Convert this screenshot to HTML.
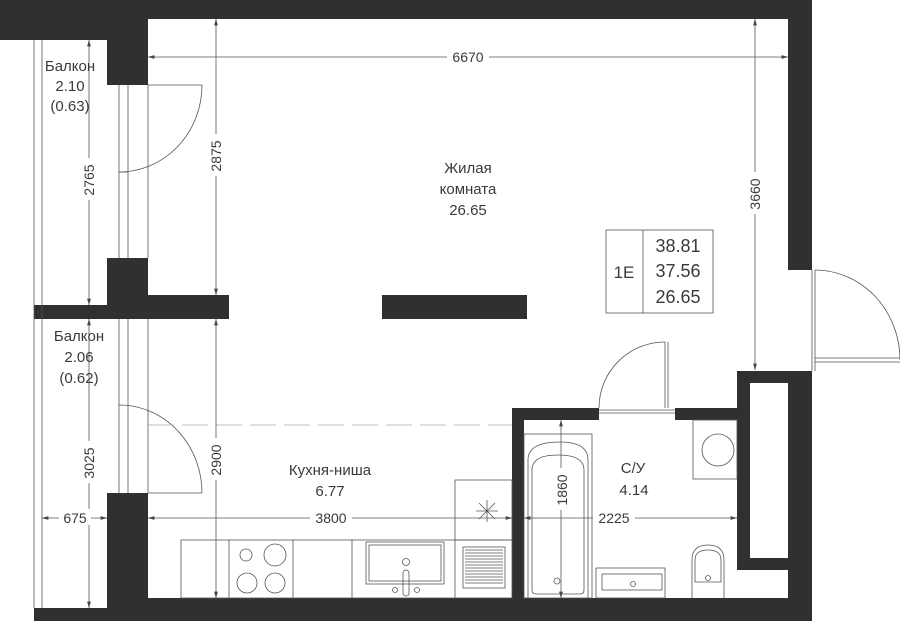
<!DOCTYPE html>
<html><head><meta charset="utf-8"><style>
body{margin:0;background:#fff;}
svg{display:block;}
text{font-family:"Liberation Sans","DejaVu Sans",sans-serif;fill:#3a3a3a;}
</style></head><body>
<svg width="900" height="621" viewBox="0 0 900 621" xmlns="http://www.w3.org/2000/svg">
<defs>
<marker id="a" viewBox="0 0 10 6" refX="10" refY="3" markerWidth="8" markerHeight="5" orient="auto-start-reverse"><path d="M0,0L10,3L0,6z" fill="#444"/></marker>
</defs>
<g fill="#303030">
<rect x="0" y="0" width="148" height="40"/>
<rect x="148" y="0" width="664" height="19"/>
<rect x="788" y="0" width="24" height="270"/>
<rect x="107" y="40" width="41" height="45"/>
<rect x="107" y="258" width="41" height="37"/>
<rect x="107" y="295" width="122" height="24"/>
<rect x="34" y="305" width="73" height="14"/>
<rect x="382" y="295" width="145" height="24"/>
<rect x="107" y="493" width="41" height="128"/>
<rect x="34" y="608" width="73" height="13"/>
<rect x="107" y="598" width="705" height="23"/>
<rect x="512" y="408" width="12" height="190"/>
<rect x="512" y="408" width="87" height="12"/>
<rect x="675" y="408" width="62" height="12"/>
<rect x="737" y="371" width="75" height="199"/>
<rect x="788" y="570" width="24" height="28"/>
</g>
<rect x="750" y="383" width="38" height="175" fill="#fff"/>
<g fill="none" stroke="#555" stroke-width="0.8">
<line x1="34" y1="40" x2="34" y2="608"/><line x1="42" y1="40" x2="42" y2="608"/>
<line x1="119" y1="85" x2="119" y2="258"/><line x1="128" y1="85" x2="128" y2="258"/><line x1="148" y1="85" x2="148" y2="258"/>
<line x1="119" y1="319" x2="119" y2="493"/><line x1="128" y1="319" x2="128" y2="493"/><line x1="148" y1="319" x2="148" y2="493"/>
<line x1="148" y1="85" x2="202" y2="85"/><path d="M202,85 A83,87 0 0 1 119,172"/><line x1="119" y1="172" x2="128" y2="172"/>
<line x1="148" y1="493" x2="202" y2="493"/><path d="M202,493 A83,88 0 0 0 119,405"/>
<line x1="812" y1="270" x2="812" y2="371"/><line x1="815" y1="270" x2="815" y2="371"/>
<line x1="815" y1="362" x2="900" y2="362"/><line x1="815" y1="358" x2="900" y2="358"/>
<path d="M815,270 A85,90 0 0 1 900,360"/>
<line x1="665" y1="342" x2="665" y2="408"/><line x1="668" y1="342" x2="668" y2="408"/>
<path d="M665,342 A66,66 0 0 0 599,408"/>
<line x1="599" y1="410" x2="675" y2="410"/><line x1="599" y1="413" x2="675" y2="413"/>
<line x1="148" y1="425" x2="512" y2="425" stroke-dasharray="26,8" stroke="#aaa"/>
<rect x="606" y="230" width="107" height="83"/><line x1="643" y1="230" x2="643" y2="313"/>
<!-- kitchen -->
<rect x="181" y="540" width="331" height="58"/>
<line x1="229" y1="540" x2="229" y2="598"/><line x1="293" y1="540" x2="293" y2="598"/><line x1="352" y1="540" x2="352" y2="598"/><line x1="455" y1="540" x2="455" y2="598"/>
<circle cx="246" cy="555" r="6"/><circle cx="275" cy="555" r="11"/><circle cx="247" cy="583" r="10"/><circle cx="275" cy="583" r="10"/>
<rect x="366" y="542" width="78" height="42"/><rect x="369" y="545" width="72" height="36"/>
<circle cx="406" cy="562" r="3.5"/><rect x="403" y="570" width="6" height="26" rx="3"/><circle cx="395" cy="590" r="2.5"/><circle cx="417" cy="590" r="2.5"/>
<rect x="455" y="480" width="57" height="60"/>
<rect x="463" y="547" width="42" height="41"/>
<path d="M465,550h38M465,553h38M465,556h38M465,559h38M465,562h38M465,565h38M465,568h38M465,571h38M465,574h38M465,577h38M465,580h38M465,583h38"/>
<path d="M476,511h22M487,500v22M479,503l16,16M495,503l-16,16"/>
<!-- bathroom -->
<rect x="524" y="434" width="68" height="164"/>
<path d="M528,598 V460 Q528,442 560,442 Q588,442 588,460 V598"/>
<path d="M532,590 V470 Q532,455 558,455 Q584,455 584,470 V590 Q584,594 580,594 H536 Q532,594 532,590"/>
<circle cx="557" cy="581" r="3"/>
<rect x="596" y="568" width="69" height="30"/><rect x="602" y="574" width="60" height="16"/>
<circle cx="633" cy="584" r="2.5"/>
<rect x="693" y="420" width="44" height="59"/><circle cx="718" cy="450" r="16"/>
<path d="M692,598 V560 Q692,545 708,545 Q724,545 724,560 V598"/><path d="M695,582 V560 Q695,550 708,550 Q721,550 721,560 V582 Z"/><circle cx="708" cy="578" r="2.5"/>
</g>
<!-- dimensions -->
<g stroke="#555" stroke-width="0.8">
<line x1="148" y1="57" x2="788" y2="57" marker-start="url(#a)" marker-end="url(#a)"/>
<line x1="755" y1="19" x2="755" y2="370" marker-start="url(#a)" marker-end="url(#a)"/>
<line x1="216" y1="19" x2="216" y2="295" marker-start="url(#a)" marker-end="url(#a)"/>
<line x1="216" y1="319" x2="216" y2="598" marker-start="url(#a)" marker-end="url(#a)"/>
<line x1="89" y1="40" x2="89" y2="305" marker-start="url(#a)" marker-end="url(#a)"/>
<line x1="89" y1="319" x2="89" y2="608" marker-start="url(#a)" marker-end="url(#a)"/>
<line x1="148" y1="518" x2="512" y2="518" marker-start="url(#a)" marker-end="url(#a)"/>
<line x1="42" y1="518" x2="107" y2="518" marker-start="url(#a)" marker-end="url(#a)"/>
<line x1="524" y1="518" x2="737" y2="518" marker-start="url(#a)" marker-end="url(#a)"/>
<line x1="561" y1="420" x2="561" y2="598" marker-start="url(#a)" marker-end="url(#a)"/>
</g>
<g font-size="14" text-anchor="middle">
<rect x="447" y="48" width="42" height="16" fill="#fff"/><text x="468" y="62">6670</text>
<rect x="310" y="509" width="42" height="16" fill="#fff"/><text x="331" y="523">3800</text>
<rect x="593" y="509" width="42" height="16" fill="#fff"/><text x="614" y="523">2225</text>
<rect x="59" y="509" width="32" height="16" fill="#fff"/><text x="75" y="523">675</text>
<g transform="translate(221,156) rotate(-90)"><rect x="-20" y="-13" width="42" height="16" fill="#fff"/><text x="0" y="0">2875</text></g>
<g transform="translate(221,460) rotate(-90)"><rect x="-20" y="-13" width="42" height="16" fill="#fff"/><text x="0" y="0">2900</text></g>
<g transform="translate(94,180) rotate(-90)"><rect x="-20" y="-13" width="42" height="16" fill="#fff"/><text x="0" y="0">2765</text></g>
<g transform="translate(94,463) rotate(-90)"><rect x="-20" y="-13" width="42" height="16" fill="#fff"/><text x="0" y="0">3025</text></g>
<g transform="translate(760,194) rotate(-90)"><rect x="-20" y="-13" width="42" height="16" fill="#fff"/><text x="0" y="0">3660</text></g>
<g transform="translate(567,490) rotate(-90)"><rect x="-20" y="-13" width="42" height="16" fill="#fff"/><text x="0" y="0">1860</text></g>
</g>
<g font-size="15" text-anchor="middle">
<text x="70" y="71">Балкон</text><text x="70" y="91">2.10</text><text x="70" y="111">(0.63)</text>
<text x="79" y="341">Балкон</text><text x="79" y="362">2.06</text><text x="79" y="383">(0.62)</text>
<text x="468" y="173">Жилая</text><text x="468" y="194">комната</text><text x="468" y="215">26.65</text>
<text x="330" y="475">Кухня-ниша</text><text x="330" y="496">6.77</text>
<text x="633" y="473">С/У</text><text x="634" y="495">4.14</text>
<text x="624" y="278" font-size="17">1E</text>
</g>
<g font-size="18" text-anchor="middle">
<text x="678" y="252">38.81</text><text x="678" y="277">37.56</text><text x="678" y="303">26.65</text>
</g>
</svg>
</body></html>
